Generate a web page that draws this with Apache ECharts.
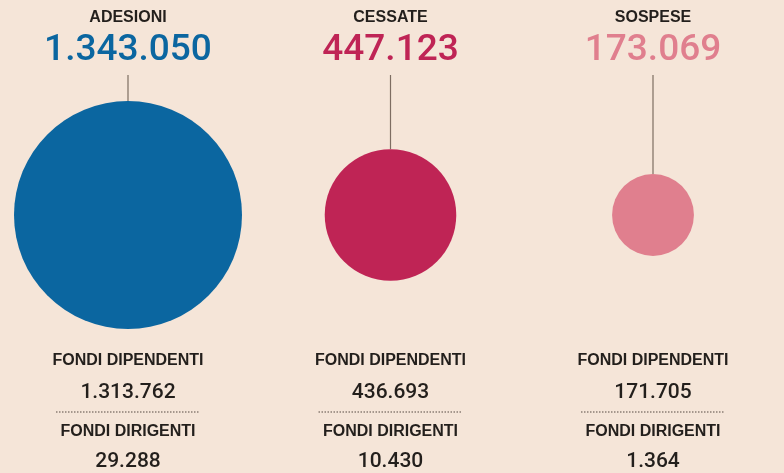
<!DOCTYPE html>
<html><head><meta charset="utf-8">
<script src="https://cdn.jsdelivr.net/npm/echarts@6/dist/echarts.min.js"></script>
<style>html,body{margin:0;padding:0;background:#f5e5d8;}#c{width:784px;height:473px;}</style>
</head><body><div id="c"></div>
<script>
const categories = ['ADESIONI', 'CESSATE', 'SOSPESE'];
const totals = [1343050, 447123, 173069];
const dipendenti = [1313762, 436693, 171705];
const dirigenti = [29288, 10430, 1364];
const colors = ['#0b66a0', '#bf2455', '#e07f8e'];

const fmt = v => String(v).replace(/\B(?=(\d{3})+(?!\d))/g, '.');
const maxT = Math.max(...totals);
const MAX_R = 114;
const radius = v => MAX_R * Math.sqrt(v / maxT);
const CY = 215;

const chart = echarts.init(document.getElementById('c'), null, {renderer: 'canvas'});
chart.setOption({
  backgroundColor: '#f5e5d8',
  animation: false,
  grid: {left: 128, right: 131, top: 0, bottom: 0},
  xAxis: {type: 'value', min: 0, max: categories.length - 1, show: false},
  yAxis: {type: 'value', min: 0, max: 473, inverse: true, show: false},
  series: [
    {
      type: 'scatter',
      data: totals.map((v, i) => ({value: [i, CY, v], itemStyle: {color: colors[i], opacity: 1}})),
      symbolSize: d => 2 * radius(d[2]),
      silent: true
    },
    {
      type: 'custom',
      data: categories.map((c, i) => [i]),
      renderItem: (params, api) => {
        const i = api.value(0);
        const p = api.coord([i, CY]);
        const x = p[0];
        const r = radius(totals[i]);
        const txt = (y, s, font, color) => ({
          type: 'text',
          style: {x: x, y: y, text: s, fill: color, font: font, textAlign: 'center', textVerticalAlign: 'middle'}
        });
        const lab = 'bold 16px "Liberation Sans", Arial, sans-serif';
        const num = '500 21px "Roboto", sans-serif';
        return {
          type: 'group',
          children: [
            {type: 'line', shape: {x1: x, y1: 75, x2: x, y2: p[1] - r}, style: {stroke: '#7d6d62', lineWidth: 1.2}},
            txt(18, categories[i], 'bold 16px "Liberation Sans", Arial, sans-serif', '#231f1c'),
            txt(51, fmt(totals[i]), '500 37px "Roboto", sans-serif', colors[i]),
            txt(361, 'FONDI DIPENDENTI', lab, '#231f1c'),
            txt(393, fmt(dipendenti[i]), num, '#231f1c'),
            {type: 'line', shape: {x1: x - 72, y1: 412, x2: x + 72, y2: 412}, style: {stroke: '#8a7d74', lineWidth: 1.5, lineDash: [1.5, 1.5]}},
            txt(432, 'FONDI DIRIGENTI', lab, '#231f1c'),
            txt(462, fmt(dirigenti[i]), num, '#231f1c')
          ]
        };
      }
    }
  ]
});
</script></body></html>
